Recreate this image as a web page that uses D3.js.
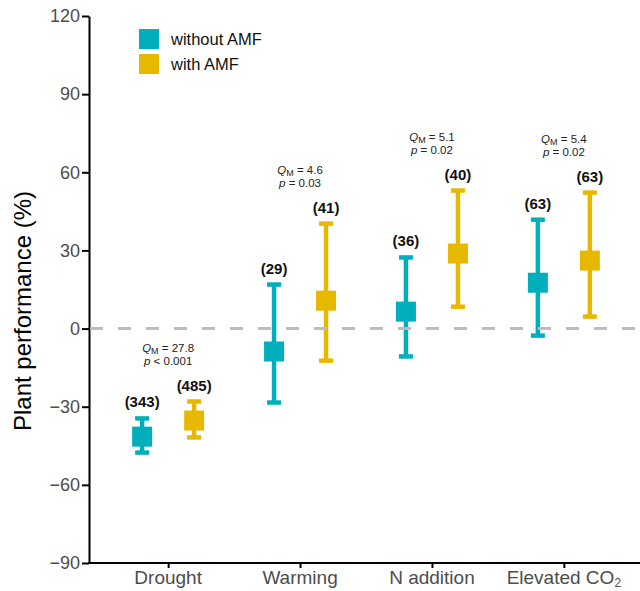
<!DOCTYPE html>
<html>
<head>
<meta charset="utf-8">
<script src="https://cdn.jsdelivr.net/npm/d3@7"></script>
<style>
  body { margin: 0; background: #fff; }
  svg { font-family: "Liberation Sans", Arial, sans-serif; }
</style>
</head>
<body>
<div id="chart"></div>
<script>
// Chart values
const categories = ["Drought", "Warming", "N addition", "Elevated CO2"];
const groups = ["without AMF", "with AMF"];
const meanWithout = [-41.5, -8.8, 6.5, 17.6];
const lowerWithout = [-47.6, -28.4, -10.7, -2.7];
const upperWithout = [-34.5, 16.9, 27.3, 41.8];
const meanWith = [-35.3, 10.7, 28.8, 26.1];
const lowerWith = [-41.8, -12.3, 8.4, 4.6];
const upperWith = [-28.0, 40.3, 53.0, 52.2];
const nWithout = [343, 29, 36, 63];
const nWith = [485, 41, 40, 63];
const qmValues = ["27.8", "4.6", "5.1", "5.4"];
const pValues = ["< 0.001", "= 0.03", "= 0.02", "= 0.02"];
const yTicks = [-90, -60, -30, 0, 30, 60, 90, 120];

const width = 640,
      height = 591;

const colors = ["#00AFBB", "#E7B800"];

const svg = d3.select("#chart").append("svg")
    .attr("width", width)
    .attr("height", height);

// Scales
const y = d3.scaleLinear()
    .domain([-90, 120])
    .range([563, 16]);

const x = d3.scalePoint()
    .domain(categories)
    .range([89, 643])
    .padding(0.6);

const groupOffset = 26;

// Y axis
const yAxis = svg.append("g")
    .attr("transform", "translate(89,0)")
    .call(d3.axisLeft(y).tickValues(yTicks).tickSize(7).tickSizeOuter(0)
        .tickFormat(d => d < 0 ? "\u2212" + Math.abs(d) : d));
yAxis.select(".domain").style("stroke", "#000").style("stroke-width", 2);
yAxis.selectAll(".tick line").style("stroke", "#000").style("stroke-width", 2);
yAxis.selectAll(".tick text")
    .attr("x", -9)
    .style("font-size", "18px")
    .style("fill", "#4d4d4d");

// X axis
const xAxis = svg.append("g")
    .attr("transform", `translate(0,${y(-90)})`)
    .call(d3.axisBottom(x).tickSize(5).tickSizeOuter(0).tickFormat(""));
xAxis.select(".domain").attr("d", `M88,0H${width}`)
    .style("stroke", "#000").style("stroke-width", 2);
xAxis.selectAll(".tick line").style("stroke", "#000").style("stroke-width", 2);

// Category labels (with subscript for CO2)
categories.forEach(c => {
    const t = svg.append("text")
        .attr("x", x(c))
        .attr("y", 584)
        .attr("text-anchor", "middle")
        .style("font-size", "19px")
        .style("fill", "#4d4d4d");
    if (c === "Elevated CO2") {
        t.append("tspan").text("Elevated CO");
        t.append("tspan").text("2").attr("dy", 3).style("font-size", "12px");
    } else {
        t.text(c);
    }
});

// Y axis title
svg.append("text")
    .attr("transform", "translate(31,311) rotate(-90)")
    .attr("text-anchor", "middle")
    .style("font-size", "24px")
    .style("fill", "#000")
    .text("Plant performance (%)");

// Series
const series = [
    { mean: meanWithout, lower: lowerWithout, upper: upperWithout, n: nWithout, dx: -groupOffset, color: colors[0] },
    { mean: meanWith, lower: lowerWith, upper: upperWith, n: nWith, dx: groupOffset, color: colors[1] }
];

series.forEach(s => {
    const g = svg.append("g");
    categories.forEach((c, i) => {
        const cx = x(c) + s.dx;
        // whisker
        g.append("line")
            .attr("x1", cx).attr("x2", cx)
            .attr("y1", y(s.upper[i])).attr("y2", y(s.lower[i]))
            .style("stroke", s.color)
            .style("stroke-width", 4.5);
        // caps
        [s.upper[i], s.lower[i]].forEach(v => {
            g.append("line")
                .attr("x1", cx - 7).attr("x2", cx + 7)
                .attr("y1", y(v)).attr("y2", y(v))
                .style("stroke", s.color)
                .style("stroke-width", 4.5);
        });
        // mean square
        g.append("rect")
            .attr("x", cx - 10).attr("y", y(s.mean[i]) - 10)
            .attr("width", 20).attr("height", 20)
            .style("fill", s.color);
        // sample size
        g.append("text")
            .attr("x", cx)
            .attr("y", y(s.upper[i]) - 11)
            .attr("text-anchor", "middle")
            .style("font-size", "15px")
            .style("font-weight", "bold")
            .style("fill", "#111")
            .text(`(${s.n[i]})`);
    });
});

// Zero reference line (drawn over the whiskers, as in the figure)
svg.append("line")
    .attr("x1", 90).attr("x2", width)
    .attr("y1", y(0)).attr("y2", y(0))
    .style("stroke", "#bdbdbd")
    .style("stroke-width", 3)
    .style("stroke-dasharray", "13,15");

// Q_M and p annotations
categories.forEach((c, i) => {
    const top = y(Math.max(upperWithout[i], upperWith[i]));
    const base = top - 50;
    const q = svg.append("text")
        .attr("x", x(c))
        .attr("y", base)
        .attr("text-anchor", "middle")
        .style("font-size", "11.5px")
        .style("fill", "#222");
    q.append("tspan").text("Q").style("font-style", "italic");
    q.append("tspan").text("M").attr("dy", 2).style("font-size", "9px");
    q.append("tspan").text(" = " + qmValues[i]).attr("dy", -2);

    const p = svg.append("text")
        .attr("x", x(c))
        .attr("y", base + 13)
        .attr("text-anchor", "middle")
        .style("font-size", "11.5px")
        .style("fill", "#222");
    p.append("tspan").text("p").style("font-style", "italic");
    p.append("tspan").text(" " + pValues[i]);
});

// Legend
const legend = svg.append("g")
    .attr("transform", "translate(139,29)");
groups.forEach((gname, i) => {
    legend.append("rect")
        .attr("x", 0)
        .attr("y", i * 25)
        .attr("width", 20)
        .attr("height", 20)
        .style("fill", colors[i]);
    legend.append("text")
        .attr("x", 32)
        .attr("y", i * 25 + 16)
        .style("font-size", "16.5px")
        .style("fill", "#111")
        .text(gname);
});
</script>
</body>
</html>
